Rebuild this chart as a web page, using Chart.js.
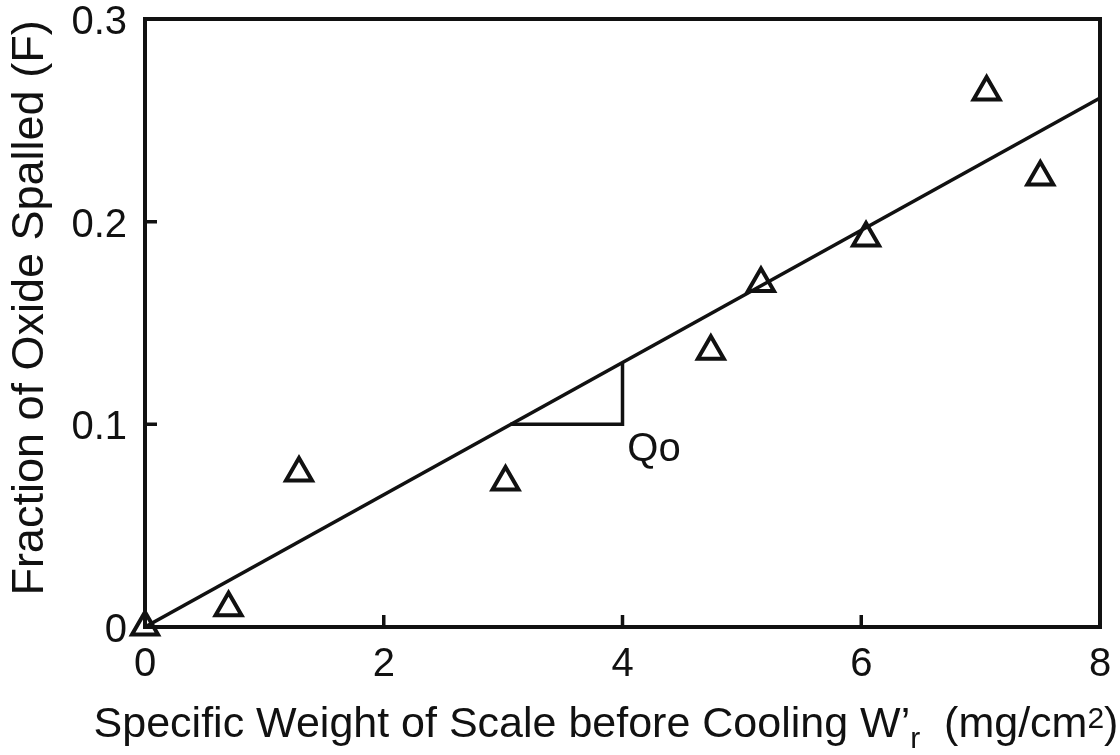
<!DOCTYPE html>
<html>
<head>
<meta charset="utf-8">
<script src="https://cdn.jsdelivr.net/npm/chart.js@4.4.1/dist/chart.umd.min.js"></script>
<style>
  html, body { margin: 0; padding: 0; background: #fff; }
  #wrap { width: 1120px; height: 755px; }
</style>
</head>
<body>
<div id="wrap"><canvas id="spallChart"></canvas></div>
<script>
// measured points: specific weight of scale (mg/cm2) vs fraction spalled
const weightVals = [0, 0.7, 1.29, 3.02, 4.74, 5.16, 6.04, 7.05, 7.5];
const spallVals = [0, 0.0095, 0.076, 0.0715, 0.136, 0.1695, 0.192, 0.264, 0.222];

// fitted straight line through origin
const fitX = [0, 8];
const fitY = [0, 0.261];

// slope triangle marked "Qo"
const slopeX = [3.06, 4, 4];
const slopeY = [0.1, 0.1, 0.1307];
const slopeLabel = 'Qo';
const slopeLabelAt = [4.04, 0.082];

const xTicks = [0, 2, 4, 6, 8];
const yTicks = [0, 0.1, 0.2, 0.3];

const ink = '#111';
const fontFam = "'Liberation Sans', Arial, Helvetica, sans-serif";

const toPts = (xs, ys) => xs.map((x, i) => ({x: x, y: ys[i]}));

// box, inward ticks, Qo label and both axis titles
const decorPlugin = {
    id: 'decor',
    afterDatasetsDraw(chart) {
        const ctx = chart.ctx;
        const a = chart.chartArea;
        const xs = chart.scales.x, ys = chart.scales.y;
        ctx.save();
        ctx.strokeStyle = ink;
        ctx.lineWidth = 4;
        ctx.strokeRect(a.left, a.top, a.right - a.left, a.bottom - a.top);

        ctx.lineWidth = 3.5;
        ctx.beginPath();
        xTicks.slice(1, -1).forEach(v => {
            const px = xs.getPixelForValue(v);
            ctx.moveTo(px, a.bottom);
            ctx.lineTo(px, a.bottom - 12);
        });
        yTicks.slice(1, -1).forEach(v => {
            const py = ys.getPixelForValue(v);
            ctx.moveTo(a.left, py);
            ctx.lineTo(a.left + 12, py);
        });
        ctx.stroke();

        ctx.fillStyle = ink;
        ctx.font = '40px ' + fontFam;
        ctx.textAlign = 'left';
        ctx.textBaseline = 'alphabetic';
        ctx.fillText(slopeLabel, xs.getPixelForValue(slopeLabelAt[0]), ys.getPixelForValue(slopeLabelAt[1]));

        // y title
        ctx.save();
        ctx.translate(43, 308);
        ctx.rotate(-Math.PI / 2);
        ctx.textAlign = 'center';
        ctx.font = '45px ' + fontFam;
        ctx.fillText('Fraction of Oxide Spalled (F)', 0, 0);
        ctx.restore();

        // x title with subscript r and superscript 2
        const mainFont = '43px ' + fontFam;
        const smallFont = '30px ' + fontFam;
        const p1 = 'Specific Weight of Scale before Cooling W\u2019';
        const p2 = 'r';
        const p3 = '  (mg/cm';
        const p4 = '2';
        const p5 = ')';
        ctx.font = mainFont;
        const w1 = ctx.measureText(p1).width;
        const w3 = ctx.measureText(p3).width;
        const w5 = ctx.measureText(p5).width;
        ctx.font = smallFont;
        const w2 = ctx.measureText(p2).width;
        const w4 = ctx.measureText(p4).width;
        const total = w1 + w2 + w3 + w4 + w5;
        let x = 606 - total / 2;
        const base = 737;
        ctx.textAlign = 'left';
        ctx.font = mainFont;
        ctx.fillText(p1, x, base); x += w1;
        ctx.font = smallFont;
        ctx.fillText(p2, x, base + 11); x += w2;
        ctx.font = mainFont;
        ctx.fillText(p3, x, base); x += w3;
        ctx.font = smallFont;
        ctx.fillText(p4, x, base - 9); x += w4;
        ctx.font = mainFont;
        ctx.fillText(p5, x, base);
        ctx.restore();
    }
};

new Chart(document.getElementById('spallChart'), {
    type: 'scatter',
    data: {
        datasets: [
            {
                label: 'fit',
                data: toPts(fitX, fitY),
                showLine: true,
                borderColor: ink,
                borderWidth: 3.5,
                pointRadius: 0
            },
            {
                label: 'slope',
                data: toPts(slopeX, slopeY),
                showLine: true,
                borderColor: ink,
                borderWidth: 3.5,
                pointRadius: 0
            },
            {
                label: 'spalled',
                data: toPts(weightVals, spallVals),
                pointStyle: 'triangle',
                pointRadius: 15,
                pointBorderWidth: 4,
                borderColor: ink,
                backgroundColor: 'rgba(0,0,0,0)',
                clip: false
            }
        ]
    },
    options: {
        responsive: true,
        maintainAspectRatio: false,
        animation: false,
        layout: {
            padding: {top: 18, right: 20, left: 0, bottom: 0}
        },
        plugins: {
            legend: {display: false},
            tooltip: {enabled: false}
        },
        scales: {
            x: {
                type: 'linear',
                min: 0,
                max: 8,
                grid: {display: false, drawTicks: false},
                border: {display: false},
                afterBuildTicks: s => { s.ticks = xTicks.map(v => ({value: v})); },
                afterFit: s => { s.height = 128; s.paddingLeft = 0; s.paddingRight = 0; },
                ticks: {
                    color: ink,
                    padding: 14,
                    font: {family: fontFam, size: 40},
                    maxRotation: 0
                }
            },
            y: {
                type: 'linear',
                min: 0,
                max: 0.3,
                grid: {display: false, drawTicks: false},
                border: {display: false},
                afterBuildTicks: s => { s.ticks = yTicks.map(v => ({value: v})); },
                afterFit: s => { s.width = 145; s.paddingTop = 0; s.paddingBottom = 0; },
                ticks: {
                    color: ink,
                    padding: 18,
                    labelOffset: 4,
                    font: {family: fontFam, size: 40},
                    callback: v => v === 0 ? '0' : v.toFixed(1)
                }
            }
        }
    },
    plugins: [decorPlugin]
});
</script>
</body>
</html>
